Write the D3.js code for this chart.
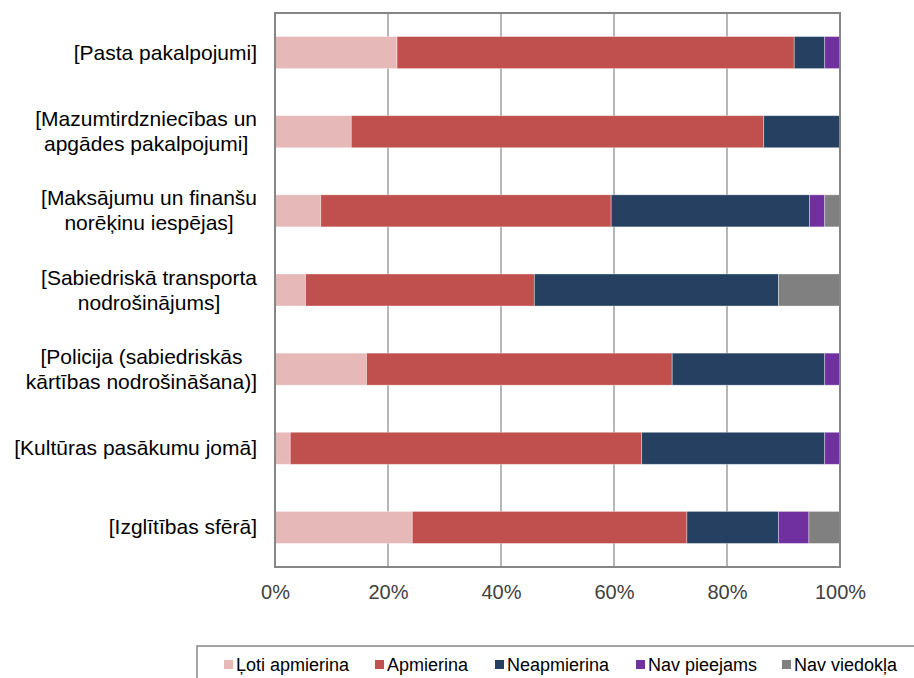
<!DOCTYPE html>
<html>
<head>
<meta charset="utf-8">
<script src="https://cdn.jsdelivr.net/npm/d3@7"></script>
<style>
  html, body { margin: 0; padding: 0; background: #fff; }
  svg { display: block; font-family: "Liberation Sans", Arial, sans-serif; }
</style>
</head>
<body>
<svg id="chart" width="914" height="678"></svg>
<script>
// ---- data ----
const categories = [
  ["[Pasta pakalpojumi]"],
  ["[Mazumtirdzniecības un", "apgādes pakalpojumi]"],
  ["[Maksājumu un finanšu", "norēķinu iespējas]"],
  ["[Sabiedriskā transporta", "nodrošinājums]"],
  ["[Policija (sabiedriskās", "kārtības nodrošināšana)]"],
  ["[Kultūras pasākumu jomā]"],
  ["[Izglītības sfērā]"]
];
const seriesNames = ["Ļoti apmierina", "Apmierina", "Neapmierina", "Nav pieejams", "Nav viedokļa"];
const lotiApmierina = [21.6, 13.5, 8.1, 5.4, 16.2, 2.7, 24.3];
const apmierina     = [70.3, 73.0, 51.4, 40.5, 54.1, 62.2, 48.6];
const neapmierina   = [5.4, 13.5, 35.1, 43.2, 27.0, 32.4, 16.2];
const navPieejams   = [2.7, 0, 2.7, 0, 2.7, 2.7, 5.4];
const navViedokla   = [0, 0, 2.7, 10.8, 0, 0, 5.4];
const tickValues = [0, 20, 40, 60, 80, 100];
const colors = ["#E6B9B8", "#C0504D", "#254061", "#7030A0", "#808080"];

// ---- build ----
const seriesValues = [lotiApmierina, apmierina, neapmierina, navPieejams, navViedokla];
const rows = categories.map((c, i) => {
  const r = { key: i };
  seriesNames.forEach((s, j) => r[s] = seriesValues[j][i]);
  return r;
});
const stacked = d3.stack().keys(seriesNames)(rows);

const svg = d3.select("#chart");
const pL = 275, pR = 840, pT = 13, pB = 567;

const x = d3.scaleLinear().domain([0, 100]).range([pL, pR]);
const y = d3.scaleBand().domain(categories.map((c, i) => i)).range([pT, pB]).paddingInner(0.595).paddingOuter(0.2975);

// gridlines
svg.append("g").selectAll("line").data(tickValues.slice(1, -1)).join("line")
  .attr("x1", d => x(d)).attr("x2", d => x(d))
  .attr("y1", pT).attr("y2", pB)
  .attr("stroke", "#868686").attr("stroke-width", 1.2);

// bars
svg.append("g").selectAll("g").data(stacked).join("g")
  .attr("fill", (d, i) => colors[i])
  .selectAll("rect").data(d => d).join("rect")
  .attr("x", d => x(d[0]))
  .attr("width", d => Math.max(0, x(d[1]) - x(d[0])))
  .attr("y", (d, i) => y(i))
  .attr("height", y.bandwidth())
  .attr("stroke", "rgba(255,255,255,0.45)")
  .attr("stroke-width", 0.8);

// frame
svg.append("rect").attr("x", pL).attr("y", pT)
  .attr("width", pR - pL).attr("height", pB - pT)
  .attr("fill", "none").attr("stroke", "#868686").attr("stroke-width", 2);

// x axis tick labels
const xAxis = d3.axisBottom(x).tickValues(tickValues).tickSize(0).tickFormat(d => d + "%");
const gx = svg.append("g").attr("transform", `translate(0,${pB})`).call(xAxis);
gx.select(".domain").remove();
gx.selectAll("text").attr("font-size", 20).attr("fill", "#404040")
  .attr("font-family", "Liberation Sans, Arial, sans-serif")
  .attr("dy", 0).attr("y", 32);

// category labels (centered lines, block right-aligned)
const labelRight = 257, lineH = 25;
categories.forEach((lines, i) => {
  const cy = y(i) + y.bandwidth() / 2;
  const g = svg.append("g");
  const texts = lines.map((ln, k) => g.append("text")
    .attr("font-size", 21).attr("fill", "#000")
    .attr("text-anchor", "middle")
    .attr("y", cy + (k - (lines.length - 1) / 2) * lineH + 7)
    .text(ln));
  const maxW = d3.max(texts, t => t.node().getComputedTextLength());
  texts.forEach(t => t.attr("x", labelRight - maxW / 2));
});

// legend
svg.append("rect").attr("x", 197).attr("y", 646).attr("width", 760).attr("height", 60)
  .attr("fill", "none").attr("stroke", "#868686").attr("stroke-width", 1.5);
const legendX = [224, 375, 495, 636, 782];
const lg = svg.append("g").selectAll("g").data(seriesNames).join("g")
  .attr("transform", (d, i) => `translate(${legendX[i]},0)`);
lg.append("rect").attr("x", 0).attr("y", 660).attr("width", 9).attr("height", 9)
  .attr("fill", (d, i) => colors[i]);
lg.append("text").attr("x", 12).attr("y", 671).attr("font-size", 18).attr("fill", "#000")
  .text(d => d);
</script>
</body>
</html>
